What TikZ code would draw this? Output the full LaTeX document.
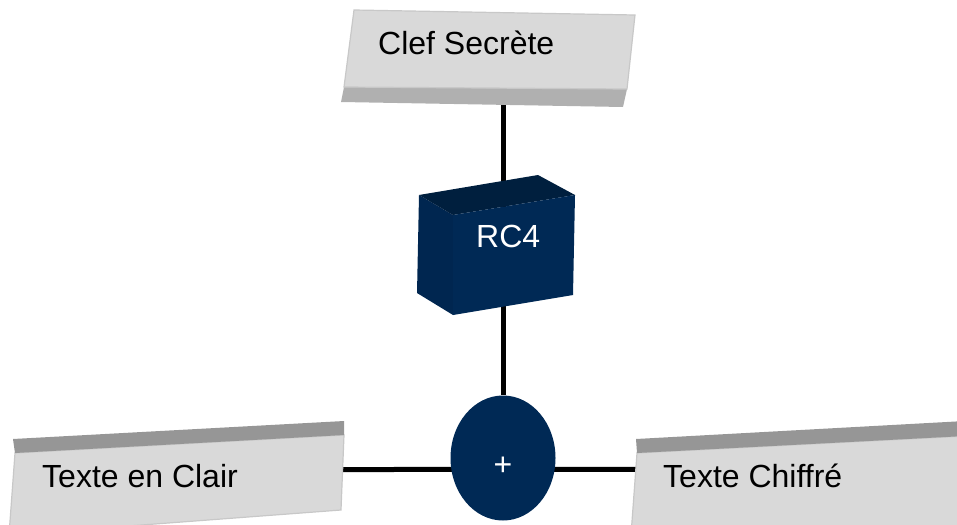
\documentclass[tikz,border=0pt]{standalone}
\usepackage{fontspec}
\setmainfont{Liberation Sans}
\usetikzlibrary{shapes.geometric}
\pgfdeclarelayer{bg}
\pgfsetlayers{bg,main}
\definecolor{navy}{RGB}{0,41,85}
\definecolor{navytop}{RGB}{0,31,62}
\definecolor{navyside}{RGB}{0,38,80}
\definecolor{facegray}{RGB}{217,217,217}
\definecolor{edgegray}{RGB}{200,200,200}
\definecolor{stripgray}{RGB}{176,176,176}
\definecolor{tabgray}{RGB}{150,150,150}
\begin{document}
\begin{tikzpicture}[x=1pt,y=-1pt,
	face/.style={fill=facegray,draw=edgegray,line width=1.2pt},
	strip/.style={fill=stripgray},
	tab/.style={fill=tabgray},
	lbl/.style={font=\fontsize{32}{38}\selectfont,inner sep=0pt,anchor=base west},
	wire/.style={line width=5pt,black}]
			\useasboundingbox (0,0) rectangle (957,524);
			\clip (0,0) rectangle (957,524);
			% Clef box
			\fill[strip] (344,87) -- (627,89) -- (623,107) -- (341,102) -- cycle;
			\filldraw[face] (354,10) -- (635,15) -- (627,89) -- (344,87) -- cycle;
			% Texte en clair box
			\filldraw[face] (15,453) -- (344,435) -- (341,510) -- (9,535) -- cycle;
			\fill[tab] (13,439) -- (344,421) -- (344,435) -- (15,453) -- cycle;
			% Texte chiffre box
			\filldraw[face] (637,453) -- (965,436) -- (965,535) -- (631,535) -- cycle;
			\fill[tab] (636,439) -- (965,421) -- (965,436) -- (637,453) -- cycle;
			% RC4 block
			\fill[navyside] (419,195) -- (453,215) -- (453,315) -- (417,293) -- cycle;
			\fill[navytop] (419,195) -- (538,175) -- (575,195) -- (453,215) -- cycle;
			\fill[navy] (453,215) -- (575,195) -- (573,295) -- (453,315) -- cycle;
			% Labels
			\node[lbl] (clef) at (378,55) {Clef Secrète};
			\node[lbl,white] (rc4) at (476,247) {RC4};
			\node[lbl] (plain) at (42,487) {Texte en Clair};
			\node[lbl] (cipher) at (663,487) {Texte Chiffré};
			\node[ellipse,fill=navy,text=white,inner sep=0pt,minimum width=105pt,minimum height=125pt,
				text height=34pt,text depth=0pt,font=\fontsize{32}{38}\selectfont] (xor) at (503,458) {+};
			%--- wires behind the shapes ---
			\begin{pgfonlayer}{bg}
			\draw[wire] (clef -| xor) -- (xor);
			\draw[wire] ([yshift=6pt]plain.east) -- ([yshift=6pt]cipher.west);
			\end{pgfonlayer}
\end{tikzpicture}
\end{document}
